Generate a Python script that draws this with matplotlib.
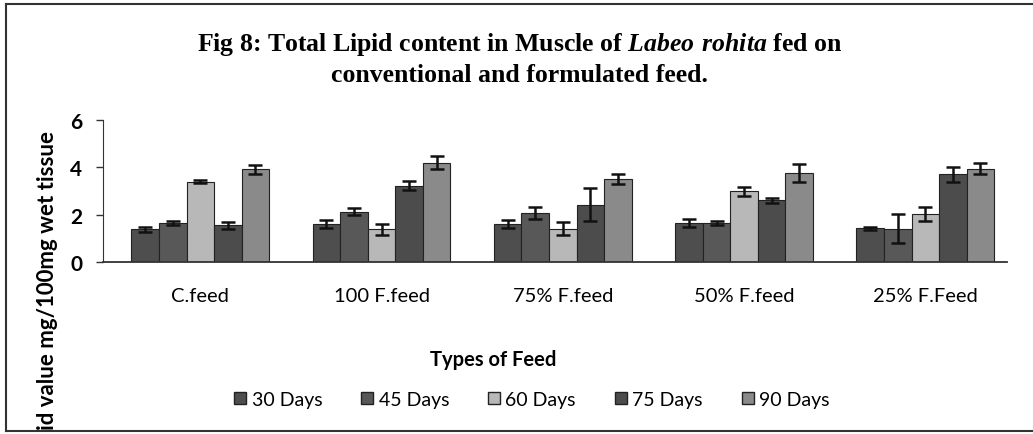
import matplotlib.pyplot as plt
import numpy as np
from matplotlib.lines import Line2D

# feed types and sampling days
feeds = ["C.feed", "100 F.feed", "75% F.feed", "50% F.feed", "25% F.Feed"]
days = ["30 Days", "45 Days", "60 Days", "75 Days", "90 Days"]

# lipid values, one list per day, in feed order
d30 = [1.38, 1.60, 1.60, 1.64, 1.43]
d45 = [1.66, 2.13, 2.08, 1.66, 1.41]
d60 = [3.40, 1.38, 1.40, 2.98, 2.02]
d75 = [1.55, 3.23, 2.42, 2.60, 3.70]
d90 = [3.92, 4.19, 3.51, 3.77, 3.94]

# error bar half-lengths
e30 = [0.12, 0.18, 0.16, 0.18, 0.07]
e45 = [0.09, 0.14, 0.25, 0.08, 0.62]
e60 = [0.07, 0.24, 0.28, 0.18, 0.30]
e75 = [0.14, 0.20, 0.70, 0.11, 0.30]
e90 = [0.20, 0.28, 0.20, 0.38, 0.24]

values = [d30, d45, d60, d75, d90]
errors = [e30, e45, e60, e75, e90]
colors = ["#4e4e4e", "#585858", "#b8b8b8", "#4c4c4c", "#8a8a8a"]

plt.rcParams["font.family"] = ["Lato", "DejaVu Sans"]
plt.rcParams["mathtext.fontset"] = "custom"
plt.rcParams["mathtext.rm"] = "Liberation Serif:bold"
plt.rcParams["mathtext.bfit"] = "Liberation Serif:italic:bold"

fig = plt.figure(figsize=(10.33, 4.35), dpi=100)
ax = fig.add_axes([0.0997, 0.3954, 0.8750, 0.3264])

x = np.arange(len(feeds))
width = 0.152
for i, (vals, errs) in enumerate(zip(values, errors)):
    pos = x + (i - 2) * width
    ax.bar(pos, vals, width, color=colors[i], edgecolor="#222222",
           linewidth=0.8, label=days[i])
    ax.errorbar(pos, vals, yerr=errs, fmt="none", ecolor="#111111",
                elinewidth=1.8, capsize=5, capthick=1.8)

ax.set_xlim(-0.537, 4.45)
ax.set_ylim(0, 6)
ax.set_yticks([0, 2, 4, 6])
ax.set_xticks(x)
ax.set_xticklabels(feeds, fontsize=14.5)
ax.tick_params(axis="x", length=0, pad=18)
ax.tick_params(axis="y", labelsize=15, length=5, width=1, color="#333333", pad=10)
for lab in ax.get_yticklabels():
    lab.set_fontweight("bold")
ax.spines["top"].set_visible(False)
ax.spines["right"].set_visible(False)
ax.spines["left"].set_color("#333333")
ax.spines["bottom"].set_color("#333333")
ax.spines["bottom"].set_linewidth(1.3)

# title in two lines
fig.text(0.503, 0.897, "Fig 8: Total Lipid content in Muscle of $\\mathbfit{Labeo\\ rohita}$ fed on",
         ha="center", va="center", fontsize=18.5, fontweight="bold",
         family="Liberation Serif")
fig.text(0.503, 0.826, "conventional and formulated feed.", ha="center", va="center",
         fontsize=18.5, fontweight="bold", family="Liberation Serif")

fig.text(0.477, 0.172, "Types of Feed", ha="center", va="center",
         fontsize=14.5, fontweight="bold")
fig.text(0.046, 0.012, "id value mg/100mg wet tissue", rotation=90,
         ha="center", va="bottom", fontsize=16, fontweight="bold")

handles = [Line2D([], [], marker="s", linestyle="none", markersize=8,
                  markerfacecolor=c, markeredgecolor="#222222") for c in colors]
fig.legend(handles, days, loc="center", bbox_to_anchor=(0.513, 0.08), ncol=5,
           frameon=False, fontsize=14, handletextpad=0.1, columnspacing=1.8,
           handlelength=1.0)

# outer frame of the scanned figure
frame = dict(color="#333333", linewidth=1.5, transform=fig.transFigure)
fig.add_artist(Line2D([0.006, 0.006], [0.007, 0.988], **frame))
fig.add_artist(Line2D([0.006, 1.0], [0.988, 0.988], **frame))
fig.add_artist(Line2D([0.006, 1.0], [0.007, 0.007], **frame))

fig.savefig("out.png", dpi=100)
